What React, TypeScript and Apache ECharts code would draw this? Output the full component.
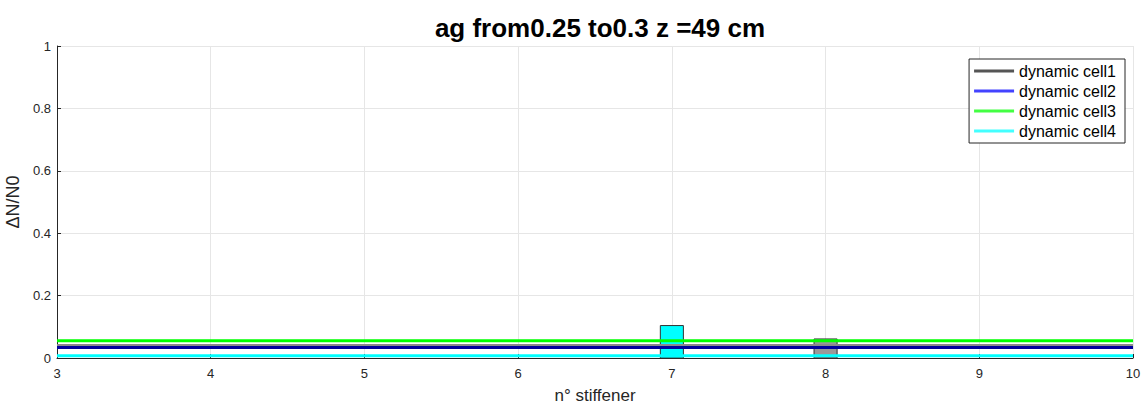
import React, { useEffect, useRef } from "react";
import * as echarts from "echarts";

const titleText = "ag from0.25 to0.3 z =49 cm";
const xName = "n° stiffener";
const yName = "ΔN/N0";
const xRange = [3, 10];
const yRange = [0, 1];
const cellNames = ["dynamic cell1", "dynamic cell2", "dynamic cell3", "dynamic cell4"];
const cellLevels = [0.042, 0.034, 0.055, 0.007];
const linePlotColors = ["#8a8a8a", "#00009c", "#00ff00", "#00ffff"];
const legendColors = ["#555555", "#4343ff", "#43ff43", "#43ffff"];
const lineWidths = [2, 3, 3, 3];
const barStiffeners = [7, 8];
const barValues = [0.104, 0.061];
const barColors = ["#00ffff", "#999999"];
const barHalfWidth = 0.075;

export default function App() {
  const ref = useRef<HTMLDivElement>(null);
  useEffect(() => {
    if (!ref.current) return;
    const chart = echarts.init(ref.current, undefined, { renderer: "svg" });
    const font = "Arial, 'Liberation Sans', Helvetica, sans-serif";
    const barSeries = {
      type: "custom",
      z: 1,
      silent: true,
      data: barStiffeners.map((s, i) => [s, barValues[i], i]),
      renderItem: (params: any, api: any) => {
        const x = api.value(0);
        const v = api.value(1);
        const idx = api.value(2);
        const p0 = api.coord([x - barHalfWidth, v]);
        const p1 = api.coord([x + barHalfWidth, 0]);
        return {
          type: "rect",
          shape: { x: p0[0], y: p0[1], width: p1[0] - p0[0], height: p1[1] - p0[1] },
          style: { fill: barColors[idx], stroke: "#333333", lineWidth: 1 },
        };
      },
    };
    const lineSeries = cellNames.map((n, i) => ({
      name: n,
      type: "line",
      z: 3,
      symbol: "none",
      silent: true,
      data: [
        [xRange[0], cellLevels[i]],
        [xRange[1], cellLevels[i]],
      ],
      lineStyle: { color: linePlotColors[i], width: lineWidths[i] },
      itemStyle: { color: linePlotColors[i] },
    }));
    chart.setOption({
      animation: false,
      backgroundColor: "#ffffff",
      title: {
        text: titleText,
        left: 595,
        textAlign: "center",
        top: 10,
        textStyle: { fontFamily: font, fontSize: 26, fontWeight: "bold", color: "#000000" },
      },
      grid: { left: 57, right: 14, top: 46, bottom: 49, containLabel: false, outerBoundsMode: "none" },
      legend: {
        orient: "vertical",
        right: 22,
        top: 59,
        padding: [4, 9, 4, 5],
        itemGap: 4,
        itemWidth: 40,
        itemHeight: 16,
        backgroundColor: "#ffffff",
        borderColor: "#262626",
        borderWidth: 1,
        borderRadius: 0,
        textStyle: { fontFamily: font, fontSize: 16, lineHeight: 16, color: "#000000" },
        data: cellNames.map((n, i) => ({
          name: n,
          icon: "path://M0,6.5L40,6.5L40,9.5L0,9.5Z",
          itemStyle: { color: legendColors[i] },
        })),
      },
      xAxis: {
        type: "value",
        min: xRange[0],
        max: xRange[1],
        interval: 1,
        name: xName,
        nameLocation: "middle",
        nameGap: 29,
        nameTextStyle: { fontFamily: font, fontSize: 17, color: "#262626" },
        axisLine: { show: true, lineStyle: { color: "#262626", width: 1 } },
        axisTick: { show: true, inside: true, length: 4, lineStyle: { color: "#262626" } },
        axisLabel: { fontFamily: font, fontSize: 13, color: "#262626", margin: 9 },
        splitLine: { show: true, lineStyle: { color: "#e6e6e6", width: 1 } },
      },
      yAxis: {
        type: "value",
        min: yRange[0],
        max: yRange[1],
        interval: 0.2,
        name: yName,
        nameLocation: "middle",
        nameGap: 27,
        nameRotate: 90,
        nameTextStyle: { fontFamily: font, fontSize: 18, color: "#262626" },
        axisLine: { show: true, lineStyle: { color: "#262626", width: 1 } },
        axisTick: { show: true, inside: true, length: 4, lineStyle: { color: "#262626" } },
        axisLabel: { fontFamily: font, fontSize: 13, color: "#262626", margin: 6 },
        splitLine: { show: true, lineStyle: { color: "#e6e6e6", width: 1 } },
      },
      series: [barSeries, ...lineSeries],
    });
    return () => chart.dispose();
  }, []);
  return <div ref={ref} style={{ width: 1147, height: 407, position: "absolute", left: 0, top: 0 }} />;
}
